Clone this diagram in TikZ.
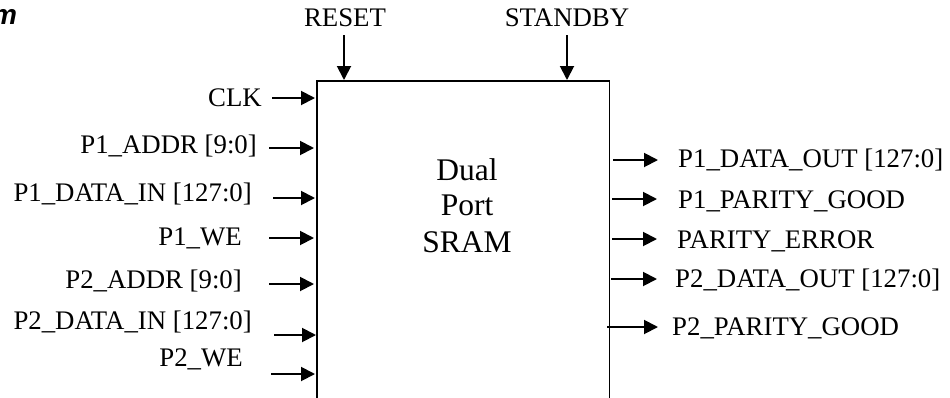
\documentclass[tikz,border=0pt]{standalone}
\usepackage{fontspec}
\setmainfont{Liberation Serif}
\newfontfamily\headfont{Liberation Sans}
\usetikzlibrary{arrows.meta}
\tikzset{
  sig/.style={line width=1.9pt, -{Triangle[length=14pt,width=14pt]}},
  lbl/.style={inner sep=0pt, font=\fontsize{26.8}{30}\selectfont},
  lblL/.style={lbl, anchor=base east},
  lblR/.style={lbl, anchor=base west},
  lblT/.style={lbl, anchor=base},
  boxstyle/.style={draw, line width=1.9pt, inner sep=0pt, anchor=north west}
}
\begin{document}
\begin{tikzpicture}[x=1pt,y=-1pt]
\useasboundingbox (0,0) rectangle (950,397);
% cut-off heading
\node[inner sep=0pt, anchor=base west, font=\headfont\bfseries\itshape\fontsize{28}{30}\selectfont] (head) at (-8,24) {m};
% main block
\node[boxstyle, minimum width=292.5pt, minimum height=360pt] (sram) at (316,80) {};
\node[inner sep=0pt, anchor=base, font=\fontsize{31.5}{36}\selectfont] (t1) at (467,180) {Dual};
\node[inner sep=0pt, anchor=base, font=\fontsize{31.5}{36}\selectfont] (t2) at (467,215) {Port};
\node[inner sep=0pt, anchor=base, font=\fontsize{31.5}{36}\selectfont] (t3) at (467,252) {SRAM};
% top inputs
\node[lblT] (reset) at (345,26) {RESET};
\node[lblT] (standby) at (567,26) {STANDBY};
\coordinate (resetS) at (344,35); \coordinate (resetE) at (344,80);
\coordinate (standbyS) at (567,35); \coordinate (standbyE) at (567,80);
\draw[sig] (resetS) -- (resetE);
\draw[sig] (standbyS) -- (standbyE);
% left inputs
\node[lblL] (clk) at (262,106) {CLK};
\node[lblL] (paddr) at (257,153) {P1\_ADDR [9:0]};
\node[lblL] (pdin) at (252,201) {P1\_DATA\_IN [127:0]};
\node[lblL] (pwe) at (242,245) {P1\_WE};
\node[lblL] (qaddr) at (242,288) {P2\_ADDR [9:0]};
\node[lblL] (qdin) at (252,329) {P2\_DATA\_IN [127:0]};
\node[lblL] (qwe) at (243,366) {P2\_WE};
\coordinate (clkS) at (272,98);   \coordinate (clkE) at (315,98);
\coordinate (paddrS) at (269,148); \coordinate (paddrE) at (314,148);
\coordinate (pdinS) at (273,198);  \coordinate (pdinE) at (315,198);
\coordinate (pweS) at (269,238);   \coordinate (pweE) at (314,238);
\coordinate (qaddrS) at (269,284); \coordinate (qaddrE) at (314,284);
\coordinate (qdinS) at (274,335);  \coordinate (qdinE) at (316,335);
\coordinate (qweS) at (271,374);   \coordinate (qweE) at (315,374);
\draw[sig] (clkS) -- (clkE);
\draw[sig] (paddrS) -- (paddrE);
\draw[sig] (pdinS) -- (pdinE);
\draw[sig] (pweS) -- (pweE);
\draw[sig] (qaddrS) -- (qaddrE);
\draw[sig] (qdinS) -- (qdinE);
\draw[sig] (qweS) -- (qweE);
% right outputs
\node[lblR] (pdout) at (678,167) {P1\_DATA\_OUT [127:0]};
\node[lblR] (ppar) at (678,208) {P1\_PARITY\_GOOD};
\node[lblR] (perr) at (677,248) {PARITY\_ERROR};
\node[lblR] (qdout) at (675,287) {P2\_DATA\_OUT [127:0]};
\node[lblR] (qpar) at (672,335) {P2\_PARITY\_GOOD};
\coordinate (pdoutS) at (613,160); \coordinate (pdoutE) at (658,160);
\coordinate (pparS) at (612,199);  \coordinate (pparE) at (657,199);
\coordinate (perrS) at (612,239);  \coordinate (perrE) at (657,239);
\coordinate (qdoutS) at (611,279); \coordinate (qdoutE) at (657,279);
\coordinate (qparS) at (607,327);  \coordinate (qparE) at (658,327);
\draw[sig] (pdoutS) -- (pdoutE);
\draw[sig] (pparS) -- (pparE);
\draw[sig] (perrS) -- (perrE);
\draw[sig] (qdoutS) -- (qdoutE);
\draw[sig] (qparS) -- (qparE);
\end{tikzpicture}
\end{document}
